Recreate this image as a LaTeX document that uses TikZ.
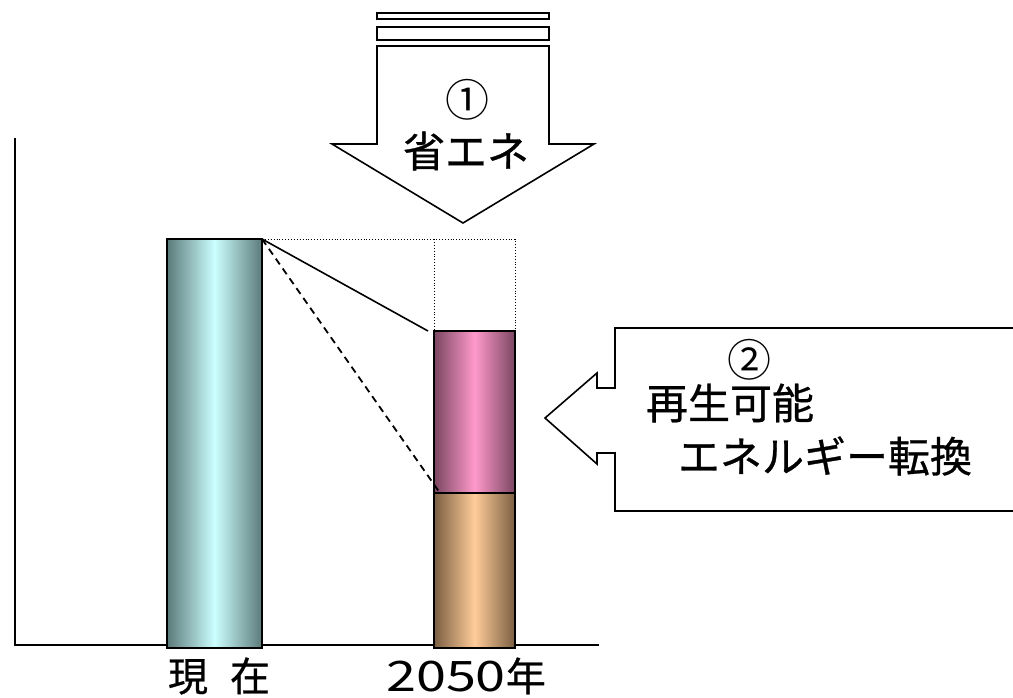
\documentclass[tikz,border=0pt]{standalone}
\usepackage{fontspec}
\setmainfont[FakeBold=0.7]{Noto Sans CJK JP}
\newfontfamily\plainjp{Noto Sans CJK JP}
\begin{document}
\begin{tikzpicture}[x=1pt,y=-1pt,
  lbl/.style={inner sep=0pt,font=\fontsize{42}{46}\selectfont},
  outl/.style={draw=black,line width=1.6pt,fill=white,line join=miter},
  barbox/.style={draw=black,line width=1.4pt},
  axisline/.style={line width=2.6pt}]
\useasboundingbox (0,0) rectangle (1013,697);
\definecolor{tealdark}{RGB}{92,122,122}
\definecolor{teallight}{RGB}{204,255,255}
\definecolor{pinkdark}{RGB}{122,70,96}
\definecolor{pinklight}{RGB}{255,153,204}
\definecolor{orgdark}{RGB}{122,94,66}
\definecolor{orglight}{RGB}{255,204,153}

% axes
\coordinate (ytop) at (15,138);
\coordinate (orig) at (15,645);
\coordinate (xend) at (599,645);
\draw[axisline] (ytop) -- (orig) -- (xend);

% bars
\shade[left color=tealdark,right color=tealdark,middle color=teallight] (167,239) rectangle (262,648);
\draw[barbox] (167,239) rectangle (262,648);
\shade[left color=orgdark,right color=orgdark,middle color=orglight] (434,493) rectangle (515,648);
\draw[barbox] (434,493) rectangle (515,648);
\shade[left color=pinkdark,right color=pinkdark,middle color=pinklight] (434,331) rectangle (515,493);
\draw[barbox] (434,331) rectangle (515,493);

\coordinate (ltop) at (262,239);
\coordinate (ptop) at (428,331);
\coordinate (otop) at (440,493);
\coordinate (d1) at (434,239);
\coordinate (d2) at (515,239);
\coordinate (d3) at (434,331);
\coordinate (d4) at (515,331);
\draw[dotted,line width=0.9pt] (ltop) -- (d2) -- (d4);
\draw[dotted,line width=0.9pt] (d1) -- (d3);
\draw[line width=1.6pt] (ltop) -- (ptop);
\draw[dashed,line width=1.8pt,dash pattern=on 7pt off 5pt] (ltop) -- (otop);

% top arrow
\draw[outl] (377,13) rectangle (549,19);
\draw[outl] (377,27) rectangle (549,40);
\draw[outl] (377,46) -- (549,46) -- (549,144) -- (594,144) -- (463,223) -- (332,144) -- (377,144) -- cycle;
\node[lbl,font=\plainjp\fontsize{44}{46}\selectfont] (n1) at (467,100) {①};
\node[lbl] (t1) at (466,151) {省エネ};

% right arrow
\draw[outl] (1020,328) -- (615,328) -- (615,388) -- (597,388) -- (597,373) -- (545,418) -- (597,464) -- (597,453) -- (615,453) -- (615,511) -- (1020,511);
\node[lbl,font=\plainjp\fontsize{44}{46}\selectfont] (n2) at (749,360) {②};
\node[lbl] (t2) at (730,403) {再生可能};
\node[lbl] (t3) at (825,456) {エネルギー転換};

% x labels
\node[lbl,font=\fontsize{40}{44}\selectfont] (x1) at (219,676) {現\hspace{22pt}在};
\node[lbl,font=\fontsize{40}{44}\selectfont] (x2) at (466,676) {{\plainjp\scalebox{1.35}[1.05]{2050}}年};
\end{tikzpicture}
\end{document}
